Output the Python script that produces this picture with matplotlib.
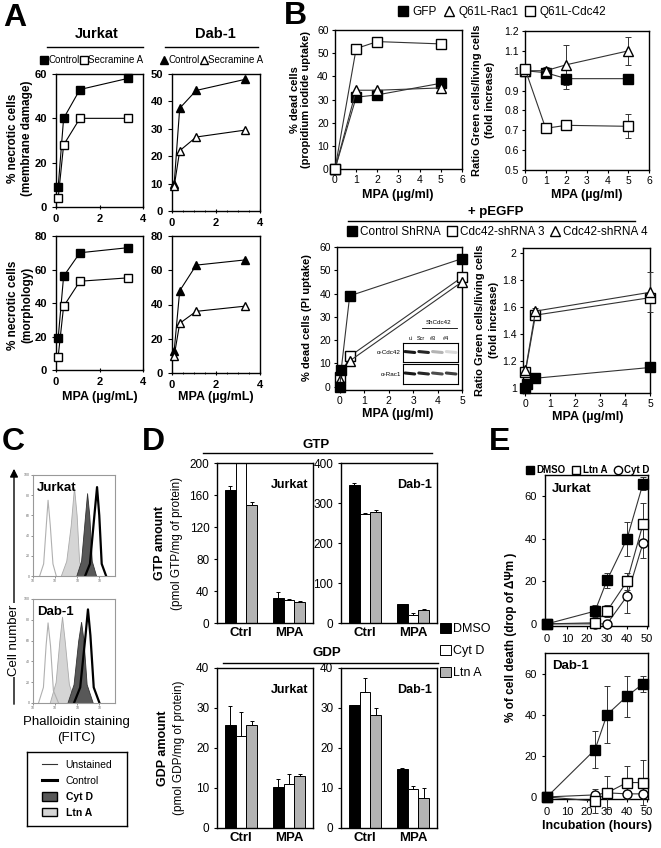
import numpy as np
import matplotlib
matplotlib.use('Agg')
import matplotlib.pyplot as plt
from matplotlib.lines import Line2D
from matplotlib.patches import Patch, FancyArrowPatch
from matplotlib.ticker import MultipleLocator

plt.rcParams['font.family'] = ['Liberation Sans', 'DejaVu Sans']
plt.rcParams['axes.linewidth'] = 1.0
plt.rcParams['xtick.major.size'] = 3
plt.rcParams['ytick.major.size'] = 3

# ---------------- data ----------------
# A: necrosis vs MPA dose
a_dose = [0.1, 0.35, 1.1, 3.3]
jur_mem_ctrl = [9, 40, 53, 58]
jur_mem_sec = [4, 28, 40, 40]
dab_mem_ctrl = [10, 37.5, 44, 48]
dab_mem_sec = [9, 22, 27, 29.5]
jur_mor_ctrl = [19, 56, 70, 73]
jur_mor_sec = [8, 38, 53, 55]
dab_mor_ctrl = [13, 48, 63, 66]
dab_mor_sec = [10, 29, 36, 39]

# B top: GFP / Q61L mutants
b_dose = [0, 1, 2, 5]
b_dead_gfp = [0, 31, 32, 37]
b_dead_rac = [0, 34, 34, 35]
b_dead_cdc = [0, 52, 55, 54]
b_ratio_gfp = [1.0, 0.99, 0.96, 0.96]
b_ratio_gfp_err = [0, 0.01, 0.05, 0.01]
b_ratio_rac = [1.0, 1.0, 1.03, 1.10]
b_ratio_rac_err = [0, 0.02, 0.10, 0.07]
b_ratio_cdc = [1.01, 0.71, 0.725, 0.72]
b_ratio_cdc_err = [0, 0.01, 0.01, 0.06]

# B bottom: shRNA
sh_dose_ctrl = [0, 0.05, 0.4, 5]
sh_dose_kd = [0, 0.4, 5]
sh_dead_ctrl = [0, 7, 39, 55]
sh_dead_ctrl_err = [0, 0.5, 2, 1]
sh_dead_kd3 = [4, 13, 47]
sh_dead_kd4 = [3, 11, 45]
sh_ratio_ctrl = [1.0, 1.03, 1.07, 1.15]
sh_ratio_ctrl_err = [0, 0.01, 0.01, 0.02]
sh_ratio_kd3 = [1.12, 1.54, 1.67]
sh_ratio_kd3_err = [0.01, 0.02, 0.03]
sh_ratio_kd4 = [1.13, 1.57, 1.71]
sh_ratio_kd4_err = [0.01, 0.02, 0.15]
blot_lanes = ['ui', 'Scr', '#3', '#4']
blot_cdc42 = [0.9, 0.85, 0.3, 0.15]
blot_rac1 = [0.9, 0.85, 0.7, 0.75]

# C: phalloidin histograms (x in decades, y counts)
c_jur = {
    'Unstained': ([0.3, 0.48, 0.6, 0.68, 0.78, 0.9, 1.05], [0, 12, 50, 75, 50, 12, 0]),
    'Ltn A': ([1.25, 1.5, 1.7, 1.85, 1.97, 2.08, 2.25], [0, 15, 50, 88, 60, 15, 0]),
    'Cyt D': ([1.95, 2.17, 2.33, 2.44, 2.54, 2.65, 2.85], [0, 15, 55, 82, 60, 15, 0]),
    'Control': ([2.35, 2.57, 2.77, 2.89, 2.99, 3.1, 3.3], [0, 12, 60, 88, 60, 12, 0]),
}
c_dab = {
    'Unstained': ([0.25, 0.47, 0.59, 0.68, 0.79, 0.92, 1.15], [0, 15, 55, 77, 55, 12, 0]),
    'Ltn A': ([0.75, 1.02, 1.19, 1.31, 1.43, 1.62, 1.9], [0, 20, 60, 83, 60, 18, 0]),
    'Cyt D': ([1.55, 1.83, 2.04, 2.17, 2.28, 2.42, 2.7], [0, 18, 60, 78, 60, 18, 0]),
    'Control': ([1.85, 2.13, 2.37, 2.48, 2.59, 2.74, 3.0], [0, 15, 65, 90, 65, 15, 0]),
}

# D: GTP / GDP bars (rows: DMSO, Cyt D, Ltn A; cols: Ctrl, MPA)
d_groups = ['Ctrl', 'MPA']
d_treat = ['DMSO', 'Cyt D', 'Ltn A']
gtp_jur = [[166, 31], [205, 29], [148, 26]]
gtp_jur_err = [[5, 8], [0, 1], [3, 1]]
gtp_dab = [[345, 47], [272, 21], [278, 33]]
gtp_dab_err = [[6, 0], [2, 3], [4, 3]]
gdp_jur = [[25.7, 10.3], [23, 11], [25.7, 13]]
gdp_jur_err = [[4.8, 2], [6, 2.5], [1, 0.5]]
gdp_dab = [[30.7, 14.8], [34, 9.8], [28.3, 7.5]]
gdp_dab_err = [[0, 0.3], [3.5, 0.8], [1.7, 2.5]]

# E: cell death kinetics
e_time = [0, 24, 30, 40, 48]
e_jur_dmso = [0, 6, 20.5, 40, 66]
e_jur_dmso_err = [0, 3, 3.5, 8, 3]
e_jur_ltn = [0, 0.5, 6, 20, 47]
e_jur_ltn_err = [0, 0, 3, 4, 10]
e_jur_cyt = [0, 0, 0, 13, 38]
e_jur_cyt_err = [0, 0, 0, 8, 7]
e_dab_dmso = [0, 23, 40, 49, 55]
e_dab_dmso_err = [0, 9, 14, 10, 4]
e_dab_ltn = [0, -2, 2, 7, 7]
e_dab_ltn_err = [0, 6, 8, 8, 11]
e_dab_cyt = [0, 1, 2, 1.5, 1.5]
e_dab_cyt_err = [0, 1, 1, 1, 1]

# ---------------- figure ----------------
W, H = 661, 848
fig = plt.figure(figsize=(W / 100, H / 100), dpi=100)


def box(x0, y0, x1, y1):
    return fig.add_axes([x0 / W, 1 - y1 / H, (x1 - x0) / W, (y1 - y0) / H])


def ftext(x, y, s, **kw):
    fig.text(x / W, 1 - y / H, s, **kw)


def hline(x0, x1, y, lw=1.0):
    fig.add_artist(Line2D([x0 / W, x1 / W], [1 - y / H, 1 - y / H], color='black', lw=lw))


def fpos(x, y):
    return (x / W, 1 - y / H)


for letter, (lx, ly) in {'A': (15, 18), 'B': (295, 16), 'C': (13, 442),
                          'D': (153, 442), 'E': (500, 442)}.items():
    ftext(lx, ly, letter, fontsize=23, fontweight='bold', ha='center', va='center')

# ---------------- A ----------------
def plot_a(ax, ctrl, sec, mk, ymax, ystep, minor):
    ax.plot(a_dose, ctrl, '-', color='black', lw=0.8, marker=mk, ms=5.5,
            mfc='black', mec='black', clip_on=False, zorder=3)
    ax.plot(a_dose, sec, '-', color='black', lw=0.8, marker=mk, ms=5.5,
            mfc='white', mec='black', clip_on=False, zorder=3)
    ax.set_xlim(0, 4)
    ax.set_ylim(0, ymax)
    ax.set_xticks([0, 2, 4])
    ax.set_yticks(np.arange(0, ymax + 1, ystep))
    if minor:
        ax.xaxis.set_minor_locator(MultipleLocator(0.5))
    ax.tick_params(axis='x', direction='inout', which='both', labelsize=8)
    ax.tick_params(axis='y', direction='out', labelsize=8)
    for t in ax.get_xticklabels() + ax.get_yticklabels():
        t.set_fontweight('bold')


ax = box(56, 74, 143, 207)
plot_a(ax, jur_mem_ctrl, jur_mem_sec, 's', 60, 20, False)
ax = box(172, 74, 260, 211)
plot_a(ax, dab_mem_ctrl, dab_mem_sec, '^', 50, 10, True)
ax = box(56, 236, 143, 370)
plot_a(ax, jur_mor_ctrl, jur_mor_sec, 's', 80, 20, False)
ax = box(172, 236, 260, 373)
plot_a(ax, dab_mor_ctrl, dab_mor_sec, '^', 80, 20, True)

ftext(97, 34, 'Jurkat', fontsize=10.5, fontweight='bold', ha='center', va='center')
ftext(215, 34, 'Dab-1', fontsize=10.5, fontweight='bold', ha='center', va='center')
hline(47, 143, 47)
hline(165, 258, 47)
for cx, mk in [(92, 's'), (212, '^')]:
    hs = [Line2D([], [], ls='none', marker=mk, ms=6, mfc='black', mec='black'),
          Line2D([], [], ls='none', marker=mk, ms=6, mfc='white', mec='black')]
    fig.legend(hs, ['Control', 'Secramine A'], loc='center', bbox_to_anchor=fpos(cx, 60),
               ncol=2, frameon=False, fontsize=7, handlelength=0.7, handletextpad=0.05,
               columnspacing=0.1, borderpad=0, borderaxespad=0)
for cy, lines in [(138, ['% necrotic cells', '(membrane damage)']),
                  (305, ['% necrotic cells', '(morphology)'])]:
    ftext(13, cy, lines[0], fontsize=8.5, fontweight='bold', rotation=90, ha='center', va='center')
    ftext(27, cy, lines[1], fontsize=8.5, fontweight='bold', rotation=90, ha='center', va='center')
ftext(100, 397, 'MPA (µg/mL)', fontsize=9, fontweight='bold', ha='center', va='center')
ftext(216, 397, 'MPA (µg/mL)', fontsize=9, fontweight='bold', ha='center', va='center')

# ---------------- B ----------------
def styl_b(ax):
    ax.tick_params(direction='out', labelsize=7.5, length=2.5, pad=2)


ax = box(335, 30, 462, 169)
ax.plot(b_dose, b_dead_gfp, '-', color='#333', lw=0.8, marker='s', ms=7, mfc='black', mec='black', clip_on=False, zorder=3)
ax.plot(b_dose, b_dead_rac, '-', color='#333', lw=0.8, marker='^', ms=7, mfc='white', mec='black', clip_on=False, zorder=3)
ax.plot(b_dose, b_dead_cdc, '-', color='#333', lw=0.8, marker='s', ms=7, mfc='white', mec='black', clip_on=False, zorder=3)
ax.set_xlim(0, 6)
ax.set_ylim(0, 60)
ax.set_xticks(range(0, 7))
ax.set_yticks(range(0, 61, 10))
styl_b(ax)
ftext(295, 100, '% dead cells', fontsize=8, fontweight='bold', rotation=90, ha='center', va='center')
ftext(306, 100, '(propidium iodide uptake)', fontsize=8, fontweight='bold', rotation=90, ha='center', va='center')
ftext(398, 195, 'MPA (µg/ml)', fontsize=9, fontweight='bold', ha='center', va='center')

ax = box(525, 31, 649, 170)
ekw = dict(capsize=2, elinewidth=0.7, capthick=0.7, lw=0.8, ms=7, mec='black', clip_on=False, zorder=3)
ax.errorbar(b_dose, b_ratio_gfp, yerr=b_ratio_gfp_err, color='#333', marker='s', mfc='black', **ekw)
ax.errorbar(b_dose, b_ratio_rac, yerr=b_ratio_rac_err, color='#333', marker='^', mfc='white', **ekw)
ax.errorbar(b_dose, b_ratio_cdc, yerr=b_ratio_cdc_err, color='#333', marker='s', mfc='white', **ekw)
ax.set_xlim(0, 6)
ax.set_ylim(0.5, 1.2)
ax.set_xticks(range(0, 7))
ax.set_yticks([0.5, 0.6, 0.7, 0.8, 0.9, 1.0, 1.1, 1.2])
ax.set_yticklabels(['0.5', '0.6', '0.7', '0.8', '0.9', '1', '1.1', '1.2'])
styl_b(ax)
ftext(477, 100, 'Ratio Green cells/living cells', fontsize=8, fontweight='bold', rotation=90, ha='center', va='center')
ftext(490, 100, '(fold increase)', fontsize=8, fontweight='bold', rotation=90, ha='center', va='center')
ftext(587, 195, 'MPA (µg/ml)', fontsize=9, fontweight='bold', ha='center', va='center')

hs = [Line2D([], [], ls='none', marker='s', ms=7, mfc='black', mec='black'),
      Line2D([], [], ls='none', marker='^', ms=7, mfc='white', mec='black'),
      Line2D([], [], ls='none', marker='s', ms=7, mfc='white', mec='black')]
fig.legend(hs, ['GFP', 'Q61L-Rac1', 'Q61L-Cdc42'], loc='center', bbox_to_anchor=fpos(502, 12),
           ncol=3, frameon=False, fontsize=8.5, handlelength=1, handletextpad=0.3,
           columnspacing=0.5, borderpad=0, borderaxespad=0)

ftext(496, 212, '+ pEGFP', fontsize=9.5, fontweight='bold', ha='center', va='center')
hline(348, 635, 221)
hs = [Line2D([], [], ls='none', marker='s', ms=7, mfc='black', mec='black'),
      Line2D([], [], ls='none', marker='s', ms=7, mfc='white', mec='black'),
      Line2D([], [], ls='none', marker='^', ms=7, mfc='white', mec='black')]
fig.legend(hs, ['Control ShRNA', 'Cdc42-shRNA 3', 'Cdc42-shRNA 4'], loc='center',
           bbox_to_anchor=fpos(497, 232), ncol=3, frameon=False, fontsize=8.5, handlelength=1,
           handletextpad=0.2, columnspacing=0.4, borderpad=0, borderaxespad=0)

ax = box(337, 247, 462, 390)
ax.plot(sh_dose_kd, sh_dead_kd3, '-', color='#333', lw=0.8, marker='s', ms=7, mfc='white', mec='black', clip_on=False, zorder=3)
ax.plot(sh_dose_kd, sh_dead_kd4, '-', color='#333', lw=0.8, marker='^', ms=7, mfc='white', mec='black', clip_on=False, zorder=3)
ax.errorbar(sh_dose_ctrl, sh_dead_ctrl, yerr=sh_dead_ctrl_err, color='#333', marker='s', mfc='black', **ekw)
ax.set_xlim(-0.12, 5)
ax.set_ylim(-1.5, 60)
ax.set_xticks(range(0, 6))
ax.set_yticks(range(0, 61, 10))
styl_b(ax)
ftext(307, 318, '% dead cells (PI uptake)', fontsize=8, fontweight='bold', rotation=90, ha='center', va='center')
ftext(398, 414, 'MPA (µg/ml)', fontsize=9, fontweight='bold', ha='center', va='center')

# western blot inset
ftext(439, 323, 'ShCdc42', fontsize=4.5, ha='center', va='center')
hline(422, 457, 328, lw=0.6)
lane_x = [411, 421, 433, 446]
for lx, lab in zip(lane_x, blot_lanes):
    ftext(lx, 338, lab, fontsize=4, ha='center', va='center')
for (y0, y1), lab, dens in [((343, 362), 'α-Cdc42', blot_cdc42), ((364, 384), 'α-Rac1', blot_rac1)]:
    ftext(401, (y0 + y1) / 2, lab, fontsize=4.5, ha='right', va='center')
    bx = box(403, y0, 458, y1)
    bx.set_xlim(-0.5, 3.5)
    bx.set_ylim(0, 1)
    bx.set_xticks([])
    bx.set_yticks([])
    for s in bx.spines.values():
        s.set_linewidth(0.8)
    for i, d in enumerate(dens):
        bx.plot([i - 0.35, i + 0.35], [0.55, 0.5], color=str(1 - d), lw=2.2, solid_capstyle='round')

ax = box(523, 248, 650, 393)
ax.errorbar(sh_dose_kd, sh_ratio_kd3, yerr=sh_ratio_kd3_err, color='#333', marker='s', mfc='white', **ekw)
ax.errorbar(sh_dose_kd, sh_ratio_kd4, yerr=sh_ratio_kd4_err, color='#333', marker='^', mfc='white', **ekw)
ax.errorbar(sh_dose_ctrl, sh_ratio_ctrl, yerr=sh_ratio_ctrl_err, color='#333', marker='s', mfc='black', **ekw)
ax.set_xlim(-0.1, 5)
ax.set_ylim(0.96, 2.04)
ax.set_xticks(range(0, 6))
ax.set_yticks([1, 1.2, 1.4, 1.6, 1.8, 2])
ax.set_yticklabels(['1', '1.2', '1.4', '1.6', '1.8', '2'])
styl_b(ax)
ftext(480, 320, 'Ratio Green cells/living cells', fontsize=8, fontweight='bold', rotation=90, ha='center', va='center')
ftext(494, 320, '(fold increase)', fontsize=8, fontweight='bold', rotation=90, ha='center', va='center')
ftext(588, 417, 'MPA (µg/ml)', fontsize=9, fontweight='bold', ha='center', va='center')

# ---------------- C ----------------
def plot_c(ax, curves, title):
    xs, ys = curves['Ltn A']
    ax.fill_between(xs, ys, color='#d5d5d5', ec='#aaaaaa', lw=0.6)
    xs, ys = curves['Cyt D']
    ax.fill_between(xs, ys, color='#585858', ec='#333333', lw=0.6)
    xs, ys = curves['Unstained']
    ax.plot(xs, ys, color='#b0b0b0', lw=0.8)
    xs, ys = curves['Control']
    ax.plot(xs, ys, color='black', lw=1.6)
    ax.set_xlim(0, 3.7)
    ax.set_ylim(0, 100)
    ax.set_xticks([0, 1, 2, 3])
    ax.set_xticklabels(['10', '10', '10', '10'])
    ax.set_yticks(range(0, 101, 20))
    ax.tick_params(labelsize=2.5, length=1.5, width=0.5, colors='#666', pad=1)
    for s in ax.spines.values():
        s.set_color('#999')
        s.set_linewidth(0.8)
    ax.text(0.05, 0.93, title, transform=ax.transAxes, fontsize=9.5, fontweight='bold', va='top')


plot_c(box(33, 475, 115, 576), c_jur, 'Jurkat')
plot_c(box(33, 599, 115, 703), c_dab, 'Dab-1')
fig.add_artist(FancyArrowPatch(fpos(14, 707), fpos(14, 466), transform=fig.transFigure,
                               arrowstyle='-|>', mutation_scale=12, color='black', lw=1))
ftext(14, 640, 'Cell number', fontsize=9.5, rotation=90, ha='center', va='center',
      bbox=dict(fc='white', ec='none', pad=1))
ftext(76, 722, 'Phalloidin staining', fontsize=9.5, ha='center', va='center')
ftext(76, 738, '(FITC)', fontsize=9.5, ha='center', va='center')
lax = box(27, 752, 127, 826)
lax.set_xticks([])
lax.set_yticks([])
hs = [Line2D([], [], color='#333', lw=0.8), Line2D([], [], color='black', lw=2.2),
      Patch(fc='#585858', ec='black'), Patch(fc='#d5d5d5', ec='black')]
leg = lax.legend(hs, ['Unstained', 'Control', 'Cyt D', 'Ltn A'], loc='center', frameon=False,
                 fontsize=7.5, handlelength=1.5, handleheight=0.9, labelspacing=0.55)
for t in leg.get_texts()[2:]:
    t.set_fontweight('bold')

# ---------------- D ----------------
bar_colors = ['black', 'white', '#b3b3b3']


def plot_d(ax, vals, errs, ymax, ystep, title):
    xg = np.arange(len(d_groups))
    for k in range(3):
        ax.bar(xg + (k - 1) * 0.22, vals[k], width=0.22, color=bar_colors[k], ec='black', lw=0.7,
               yerr=[np.zeros(2), errs[k]], error_kw=dict(capsize=1.5, elinewidth=0.7, capthick=0.7))
    ax.set_xlim(-0.5, 1.5)
    ax.set_ylim(0, ymax)
    ax.set_yticks(np.arange(0, ymax + 1, ystep))
    ax.set_xticks(xg)
    ax.set_xticklabels(d_groups, fontsize=9.5, fontweight='bold')
    ax.tick_params(axis='x', length=0, pad=3)
    ax.tick_params(axis='y', direction='out', length=2, labelsize=8.5)
    ax.text(0.95, 0.9, title, transform=ax.transAxes, fontsize=9, fontweight='bold', ha='right', va='top')


plot_d(box(217, 463, 313, 623), gtp_jur, gtp_jur_err, 200, 40, 'Jurkat')
plot_d(box(341, 463, 437, 623), gtp_dab, gtp_dab_err, 400, 100, 'Dab-1')
plot_d(box(217, 668, 313, 828), gdp_jur, gdp_jur_err, 40, 10, 'Jurkat')
plot_d(box(341, 668, 437, 828), gdp_dab, gdp_dab_err, 40, 10, 'Dab-1')
ftext(316, 445, 'GTP', fontsize=9.5, fontweight='bold', ha='center', va='center')
hline(203, 432, 453)
ftext(327, 653, 'GDP', fontsize=9.5, fontweight='bold', ha='center', va='center')
hline(223, 438, 663)
ftext(160, 543, 'GTP amount', fontsize=9, fontweight='bold', rotation=90, ha='center', va='center')
ftext(177, 543, '(pmol GTP/mg of protein)', fontsize=8.5, rotation=90, ha='center', va='center')
ftext(163, 748, 'GDP amount', fontsize=9, fontweight='bold', rotation=90, ha='center', va='center')
ftext(179, 748, '(pmol GDP/mg of protein)', fontsize=8.5, rotation=90, ha='center', va='center')
hs = [Patch(fc=c, ec='black', lw=0.7) for c in bar_colors]
fig.legend(hs, d_treat, loc='upper left', bbox_to_anchor=fpos(440, 623), frameon=False,
           fontsize=9, handlelength=0.9, handleheight=0.9, handletextpad=0.15, labelspacing=0.75,
           borderpad=0, borderaxespad=0)

# ---------------- E ----------------
def plot_e(ax, dm, dme, lt, lte, cy, cye, title):
    kw = dict(capsize=2, elinewidth=0.7, capthick=0.7, lw=0.8, ms=6.5, mec='black',
              clip_on=False, zorder=3, color='#333')
    ax.errorbar(e_time, cy, yerr=cye, marker='o', mfc='white', **kw)
    ax.errorbar(e_time, lt, yerr=lte, marker='s', mfc='white', **kw)
    ax.errorbar(e_time, dm, yerr=dme, marker='s', mfc='black', **kw)
    ax.set_xlim(-1, 50.5)
    ax.set_ylim(-1, 70)
    ax.set_xticks(range(0, 51, 10))
    ax.set_yticks([0, 20, 40, 60])
    ax.tick_params(direction='out', length=2.5, labelsize=8)
    ax.text(0.07, 0.95, title, transform=ax.transAxes, fontsize=9.5, fontweight='bold', va='top')


plot_e(box(545, 475, 648, 626), e_jur_dmso, e_jur_dmso_err, e_jur_ltn, e_jur_ltn_err,
       e_jur_cyt, e_jur_cyt_err, 'Jurkat')
plot_e(box(545, 653, 648, 799), e_dab_dmso, e_dab_dmso_err, e_dab_ltn, e_dab_ltn_err,
       e_dab_cyt, e_dab_cyt_err, 'Dab-1')
hs = [Line2D([], [], ls='none', marker='s', ms=6, mfc='black', mec='black'),
      Line2D([], [], ls='none', marker='s', ms=6, mfc='white', mec='black'),
      Line2D([], [], ls='none', marker='o', ms=6, mfc='white', mec='black')]
leg = fig.legend(hs, ['DMSO', 'Ltn A', 'Cyt D'], loc='center', bbox_to_anchor=fpos(588, 470),
                 ncol=3, frameon=False, fontsize=7, handlelength=0.8, handletextpad=0.25,
                 columnspacing=0.7, borderpad=0, borderaxespad=0)
for t in leg.get_texts():
    t.set_fontweight('bold')
ftext(511, 637, '% of cell death (drop of ΔΨm )', fontsize=8.5, fontweight='bold', rotation=90,
      ha='center', va='center')
ftext(597, 826, 'Incubation (hours)', fontsize=9, fontweight='bold', ha='center', va='center')

fig.savefig('out.png', dpi=100)
